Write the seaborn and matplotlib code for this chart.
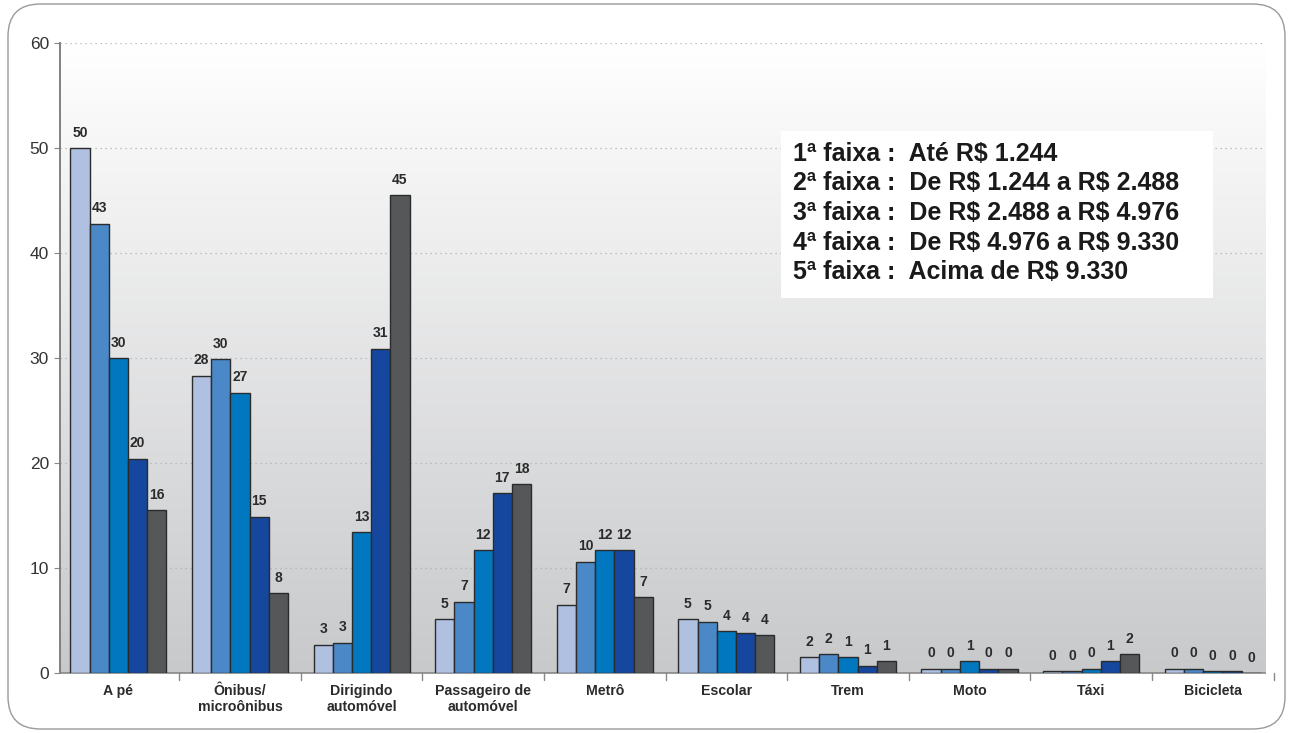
import numpy as np
import pandas as pd
import matplotlib
matplotlib.use("Agg")
import matplotlib.pyplot as plt
import seaborn as sns
from matplotlib.patches import FancyBboxPatch
from matplotlib.colors import LinearSegmentedColormap

categories = ["A pé", "Ônibus/\nmicroônibus", "Dirigindo\nautomóvel", "Passageiro de\nautomóvel",
              "Metrô", "Escolar", "Trem", "Moto", "Táxi", "Bicicleta"]
faixas = ["1ª faixa", "2ª faixa", "3ª faixa", "4ª faixa", "5ª faixa"]
faixa1 = [50.0, 28.3, 2.7, 5.1, 6.5, 5.1, 1.5, 0.4, 0.2, 0.4]
faixa2 = [42.8, 29.9, 2.9, 6.8, 10.6, 4.9, 1.8, 0.4, 0.2, 0.4]
faixa3 = [30.0, 26.7, 13.4, 11.7, 11.7, 4.0, 1.5, 1.1, 0.4, 0.2]
faixa4 = [20.4, 14.9, 30.9, 17.1, 11.7, 3.8, 0.7, 0.4, 1.1, 0.2]
faixa5 = [15.5, 7.6, 45.5, 18.0, 7.2, 3.6, 1.1, 0.4, 1.8, 0.0]
labels1 = [50, 28, 3, 5, 7, 5, 2, 0, 0, 0]
labels2 = [43, 30, 3, 7, 10, 5, 2, 0, 0, 0]
labels3 = [30, 27, 13, 12, 12, 4, 1, 1, 0, 0]
labels4 = [20, 15, 31, 17, 12, 4, 1, 0, 1, 0]
labels5 = [16, 8, 45, 18, 7, 4, 1, 0, 2, 0]
legend_lines = ["1ª faixa :  Até R$ 1.244",
                "2ª faixa :  De R$ 1.244 a R$ 2.488",
                "3ª faixa :  De R$ 2.488 a R$ 4.976",
                "4ª faixa :  De R$ 4.976 a R$ 9.330",
                "5ª faixa :  Acima de R$ 9.330"]
yticks = [0, 10, 20, 30, 40, 50, 60]

colors = ["#AFC0E1", "#4A88C8", "#0077BE", "#15479E", "#555759"]

series = [faixa1, faixa2, faixa3, faixa4, faixa5]
lab_series = [labels1, labels2, labels3, labels4, labels5]
rows = []
for f, vals in zip(faixas, series):
    for c, v in zip(categories, vals):
        rows.append({"cat": c, "faixa": f, "val": v})
df = pd.DataFrame(rows)

sns.set_style("white")
plt.rcParams["font.family"] = ["Liberation Sans", "DejaVu Sans"]

fig = plt.figure(figsize=(12.93, 7.33), dpi=100)
ax = fig.add_axes([60/1293, 60/733, (1265-60)/1293, (673-43)/733])

# rounded frame around the figure
frame = FancyBboxPatch((8/1293, 4/733), (1285-8)/1293, (729-4)/733,
                       boxstyle="round,pad=0,rounding_size=0.025",
                       transform=fig.transFigure, fill=False, edgecolor="#9a9a9a",
                       linewidth=1.0, mutation_aspect=1293/733)
fig.patches.append(frame)

sns.barplot(data=df, x="cat", y="val", hue="faixa", palette=colors, width=0.79,
            saturation=1, edgecolor="#2b2b2b", linewidth=1.0, ax=ax, legend=False, zorder=3)

xlim = (-0.48, 9.43)

# gradient background (white at top, grey at bottom)
grad = np.linspace(0, 1, 256).reshape(-1, 1)
cmap = LinearSegmentedColormap.from_list("bg", ["#ffffff", "#c8c9cb"])
ax.imshow(grad, extent=[xlim[0], xlim[1], 0, 60], aspect="auto", cmap=cmap,
          zorder=0, origin="upper")
ax.set_xlim(*xlim)
ax.set_ylim(0, 60)

for y in yticks[1:]:
    ax.axhline(y, color="#b0b0b0", linestyle=(0, (1, 3)), linewidth=0.9, zorder=1)

# value labels
for cont, labs in zip(ax.containers, lab_series):
    for bar, lab in zip(cont, labs):
        h = bar.get_height()
        ax.text(bar.get_x() + bar.get_width()/2, h + 0.8, str(lab), ha="center", va="bottom",
                fontsize=10, fontweight="bold", color="#2b2b2b", zorder=5)

ax.set_yticks(yticks)
ax.set_yticklabels([str(t) for t in yticks], fontsize=12.5, color="#333333")
ax.set_xticks(range(len(categories)))
ax.set_xticklabels(categories, fontsize=10.2, fontweight="bold", color="#2b2b2b")
ax.tick_params(axis="x", length=0, pad=8)
ax.tick_params(axis="y", length=4, color="#888888", pad=4, direction="out", left=True)
for i in range(len(categories)):
    ax.plot([i + 0.5, i + 0.5], [0, -0.7], color="#888888", linewidth=1, clip_on=False, zorder=4)
ax.set_xlabel("")
ax.set_ylabel("")

for s in ["top", "right"]:
    ax.spines[s].set_visible(False)
ax.spines["left"].set_color("#777777")
ax.spines["bottom"].set_color("#888888")
ax.spines["left"].set_linewidth(1.3)
ax.spines["bottom"].set_linewidth(1.2)

# legend box
box = FancyBboxPatch((781/1293, 1 - 298/733), (1213-781)/1293, (298-131)/733,
                     boxstyle="square,pad=0", transform=fig.transFigure,
                     facecolor="white", edgecolor="none", zorder=6)
fig.patches.append(box)
for i, line in enumerate(legend_lines):
    fig.text(793/1293, 1 - (154 + i*29.5)/733, line.replace("$", r"\$"), fontsize=18,
             fontweight="bold", color="#1a1a1a", va="center", ha="left", zorder=7)

fig.savefig("out.png", dpi=100)
